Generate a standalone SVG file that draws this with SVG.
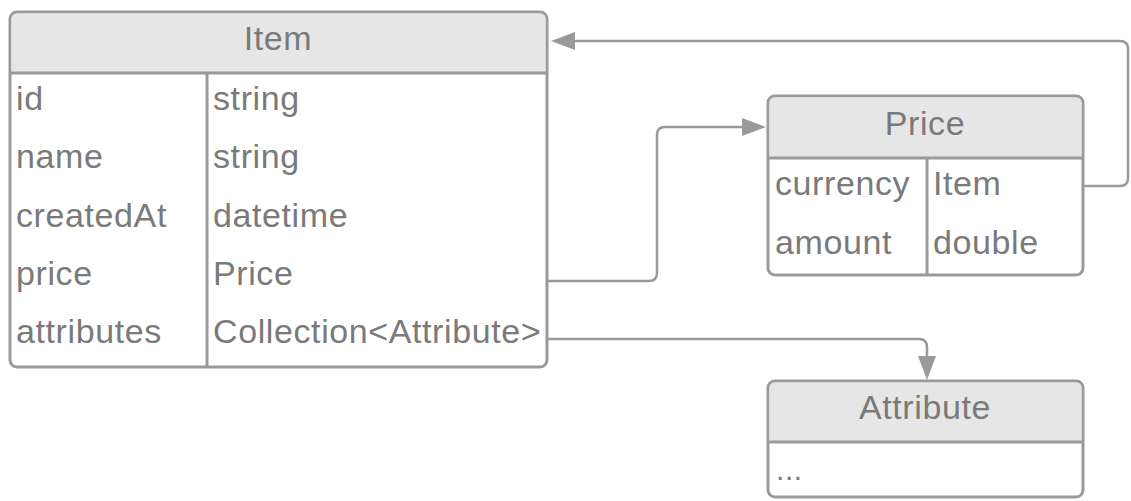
<svg xmlns="http://www.w3.org/2000/svg" width="1131" height="501" viewBox="0 0 1131 501">
  <style>
    .box { fill: #ffffff; stroke: #9a9a9a; stroke-width: 3; }
    .head { fill: #e6e6e6; }
    .line { stroke: #9a9a9a; stroke-width: 3; fill: none; }
    .t { font-family: "Liberation Sans", Arial, sans-serif; font-size: 34px; letter-spacing: 0.6px; fill: #7a7a7a; }
    .title { text-anchor: middle; }
    .conn { stroke: #9a9a9a; stroke-width: 2.5; fill: none; }
    .head-arrow { fill: #9a9a9a; }
  </style>

  <g id="connectors">
    <!-- Price.currency -> Item -->
    <path class="conn" d="M1083,186 H1120 Q1128,186 1128,178 V49 Q1128,41 1120,41 H560"/>
    <!-- Item.price -> Price -->
    <path class="conn" d="M548,281 H649 Q657,281 657,273 V135 Q657,127 665,127 H755"/>
    <!-- Item.attributes -> Attribute -->
    <path class="conn" d="M548,339 H919 Q927,339 927,347 V370"/>
    <polygon class="head-arrow" points="551,41 575,32 575,50"/>
    <polygon class="head-arrow" points="766,127 742,118 742,136"/>
    <polygon class="head-arrow" points="927,380 918,356 936,356"/>
  </g>

  <g id="item">
    <rect class="box" x="10" y="12" width="537" height="355" rx="7"/>
    <path class="head" d="M11.5,73 V19 Q11.5,13.5 17,13.5 H540 Q545.5,13.5 545.5,19 V73 Z"/>
    <line class="line" x1="10" y1="73" x2="547" y2="73"/>
    <line class="line" x1="207" y1="73" x2="207" y2="367"/>
    <text class="t title" x="278" y="50">Item</text>
    <text class="t" x="16" y="110">id</text>
    <text class="t" x="213" y="110">string</text>
    <text class="t" x="16" y="168">name</text>
    <text class="t" x="213" y="168">string</text>
    <text class="t" x="16" y="227">createdAt</text>
    <text class="t" x="213" y="227">datetime</text>
    <text class="t" x="16" y="285">price</text>
    <text class="t" x="213" y="285">Price</text>
    <text class="t" x="16" y="343">attributes</text>
    <text class="t" x="213" y="343">Collection&lt;Attribute&gt;</text>
  </g>

  <g id="price">
    <rect class="box" x="768" y="96" width="315" height="179" rx="7"/>
    <path class="head" d="M769.5,158 V103 Q769.5,97.5 775,97.5 H1076 Q1081.5,97.5 1081.5,103 V158 Z"/>
    <line class="line" x1="768" y1="158" x2="1083" y2="158"/>
    <line class="line" x1="927" y1="158" x2="927" y2="275"/>
    <text class="t title" x="925" y="135">Price</text>
    <text class="t" x="775" y="195">currency</text>
    <text class="t" x="933" y="195">Item</text>
    <text class="t" x="775" y="254">amount</text>
    <text class="t" x="933" y="254">double</text>
  </g>

  <g id="attribute">
    <rect class="box" x="768" y="381" width="315" height="116" rx="7"/>
    <path class="head" d="M769.5,442 V388 Q769.5,382.5 775,382.5 H1076 Q1081.5,382.5 1081.5,388 V442 Z"/>
    <line class="line" x1="768" y1="442" x2="1083" y2="442"/>
    <text class="t title" x="925" y="419">Attribute</text>
    <text class="t" x="776" y="480" style="font-size:30px">...</text>
  </g>
</svg>
